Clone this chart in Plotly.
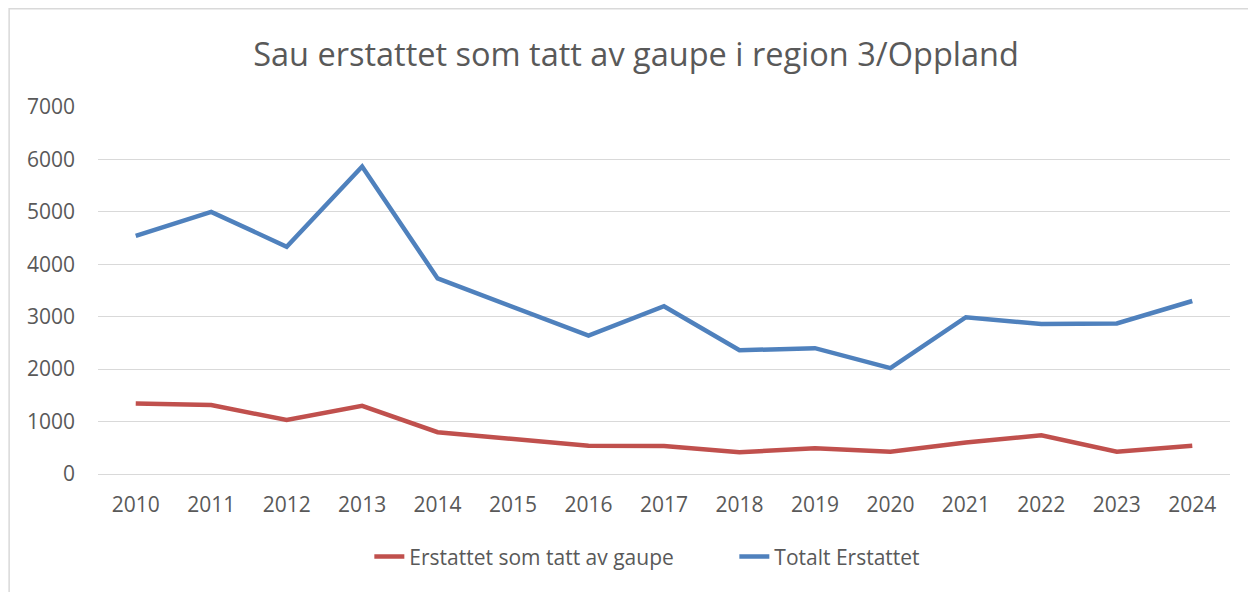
import plotly.graph_objects as go

years = [str(y) for y in range(2010, 2025)]
gaupe = [1345, 1315, 1030, 1300, 797, 670, 540, 535, 415, 490, 425, 600, 740, 425, 540]
totalt = [4540, 5000, 4335, 5865, 3730, 3180, 2640, 3200, 2360, 2400, 2020, 2990, 2860, 2870, 3300]

title = "Sau erstattet som tatt av gaupe i region 3/Oppland"
font_family = "Open Sans, Liberation Sans, sans-serif"
txt = "#595959"
grid = "#d9d9d9"

fig = go.Figure()
fig.add_trace(go.Scatter(x=years, y=gaupe, mode="lines", name="Erstattet som tatt av gaupe",
                         line=dict(color="#C0504D", width=4.5)))
fig.add_trace(go.Scatter(x=years, y=totalt, mode="lines", name="Totalt Erstattet",
                         line=dict(color="#4F81BD", width=4.5)))

# page has 8px body margin; plot area in reference spans x 98..1230, y 107..474
fig.update_layout(
    width=1256, height=592,
    margin=dict(l=90, r=34, t=99, b=126),
    paper_bgcolor="white", plot_bgcolor="white",
    title=dict(text=title, x=0.5, xanchor="center", y=0.922, yanchor="middle",
               font=dict(family=font_family, size=32.5, color=txt)),
    font=dict(family=font_family, size=21, color=txt),
    showlegend=True,
    legend=dict(orientation="h", x=0.2397, xanchor="left", y=-0.226, yanchor="middle",
                entrywidth=320, entrywidthmode="pixels",
                font=dict(size=21, color=txt), traceorder="normal"),
    xaxis=dict(type="category", range=[-0.5, 14.5], showgrid=False, showline=True,
               linecolor=grid, linewidth=1.3, ticks="", ticklabelstandoff=12,
               tickfont=dict(size=21, color=txt)),
    yaxis=dict(range=[0, 7000], dtick=1000, showgrid=True, gridcolor=grid, gridwidth=1.3,
               zeroline=False, showline=False, ticks="", ticklabelstandoff=22,
               tickfont=dict(size=21, color=txt)),
    shapes=[dict(type="rect", xref="paper", yref="paper",
                 x0=-0.0785, x1=1.06, y0=-0.4, y1=1.268,
                 line=dict(color="#d9d9d9", width=1.5), fillcolor="rgba(0,0,0,0)", layer="below")],
)

fig.write_html("out.html")
